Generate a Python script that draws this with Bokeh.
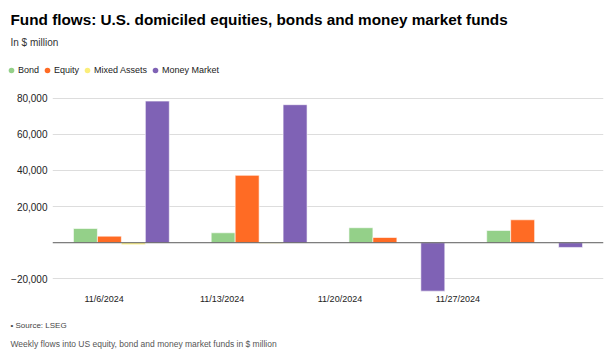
from bokeh.plotting import figure
from bokeh.models import (Range1d, Legend, LegendItem, FixedTicker, Label,
                          ColumnDataSource, NumeralTickFormatter, Span)
from bokeh.embed import file_html
from bokeh.resources import INLINE

# ---- data ----
dates = ["11/6/2024", "11/13/2024", "11/20/2024", "11/27/2024"]
series = ["Bond", "Equity", "Mixed Assets", "Money Market"]
bond = [7900, 5500, 8300, 6800]
equity = [3650, 37300, 2900, 12700]
mixed = [-1100, -400, 0, 0]
money = [78400, 76400, -26800, -2600]
colors = ["#94d089", "#ff6b24", "#fbee7a", "#7f62b5"]
y_ticks = [-20000, 20000, 40000, 60000, 80000]

title_text = "Fund flows: U.S. domiciled equities, bonds and money market funds"
subtitle_text = "In $ million"
source_text = "\u2022 Source: LSEG"
note_text = "Weekly flows into US equity, bond and money market funds in $ million"

FONT = "Liberation Sans"
W = 611
HH, MH = 88, 222
FH = 356 - HH - MH

values = [bond, equity, mixed, money]
bar_w = 0.174
sources = []
for k, vals in enumerate(values):
    xs = [i + 0.5 + (k - 1.5) * bar_w for i in range(len(dates))]
    sources.append(ColumnDataSource(dict(x=xs, top=vals)))


def bare(h):
    f = figure(width=W, height=h, output_backend="svg", toolbar_location=None,
               x_range=Range1d(0, W), y_range=Range1d(0, h),
               x_axis_type=None, y_axis_type=None, min_border=0,
               outline_line_color=None)
    f.grid.visible = False
    return f


# ---- header ----
head = bare(HH)
head.add_layout(Label(x=10, y=HH - 19, text=title_text, text_font=FONT,
                      text_font_size="15.3px", text_font_style="bold",
                      text_color="#000000", text_baseline="middle"))
head.add_layout(Label(x=10, y=HH - 42, text=subtitle_text, text_font=FONT,
                      text_font_size="10px", text_color="#333333",
                      text_baseline="middle"))
dots = []
for src, c in zip(sources, colors):
    dots.append(head.scatter(x="x", y="top", source=src, size=6, fill_color=c,
                             line_color=None, visible=False))
legend = Legend(items=[LegendItem(label=s, renderers=[r]) for s, r in zip(series, dots)],
                orientation="horizontal", location=(4, 11),
                glyph_width=14, glyph_height=14, label_standoff=-2, spacing=1,
                padding=0, margin=0, border_line_alpha=0, background_fill_alpha=0,
                label_text_font=FONT, label_text_font_size="9px",
                label_text_color="#222222", label_height=12)
head.add_layout(legend, "center")

# ---- main chart ----
p = figure(width=W, height=MH, output_backend="svg", toolbar_location=None,
           x_range=Range1d(0, len(dates)), y_range=Range1d(-27550, 84260),
           min_border_left=52, min_border_right=8, min_border_top=2,
           min_border_bottom=18, outline_line_color=None)

for src, col in zip(sources, colors):
    p.vbar(x="x", top="top", bottom=0, width=bar_w, source=src,
           fill_color=col, line_color="white", line_width=0.6)

p.add_layout(Span(location=0, dimension="width", line_color="#5a5a5a", line_width=1))

# x labels placed as in the reference
x_pos = [0.375 + 0.856 * i for i in range(len(dates))]
p.xaxis.ticker = FixedTicker(ticks=x_pos)
p.xaxis.major_label_overrides = {xp: d for xp, d in zip(x_pos, dates)}
p.xaxis.axis_line_color = None
p.xaxis.major_tick_line_color = None
p.xaxis.minor_tick_line_color = None
p.xaxis.major_tick_out = 0
p.xaxis.major_tick_in = 0
p.xaxis.major_label_standoff = 1
p.xaxis.major_label_text_font = FONT
p.xaxis.major_label_text_font_size = "9px"
p.xaxis.major_label_text_color = "#222222"

p.yaxis.ticker = FixedTicker(ticks=y_ticks)
p.yaxis.formatter = NumeralTickFormatter(format="0,0")
p.yaxis.major_label_overrides = {-20000: "\u221220,000"}
p.yaxis.axis_line_color = None
p.yaxis.major_tick_line_color = None
p.yaxis.minor_tick_line_color = None
p.yaxis.major_tick_out = 0
p.yaxis.major_tick_in = 0
p.yaxis.major_label_standoff = 5
p.yaxis.major_label_text_font = FONT
p.yaxis.major_label_text_font_size = "10px"
p.yaxis.major_label_text_color = "#222222"

p.xgrid.grid_line_color = None
p.ygrid.grid_line_color = "#dddddd"
p.ygrid.ticker = FixedTicker(ticks=y_ticks)

# ---- footer ----
foot = bare(FH)
foot.add_layout(Label(x=10, y=FH - 15, text=source_text, text_font=FONT,
                      text_font_size="8px", text_color="#444444",
                      text_baseline="middle"))
foot.add_layout(Label(x=10, y=FH - 33, text=note_text, text_font=FONT,
                      text_font_size="8.5px", text_color="#555555",
                      text_baseline="middle"))

open("out.html", "w").write(file_html([head, p, foot], INLINE))
